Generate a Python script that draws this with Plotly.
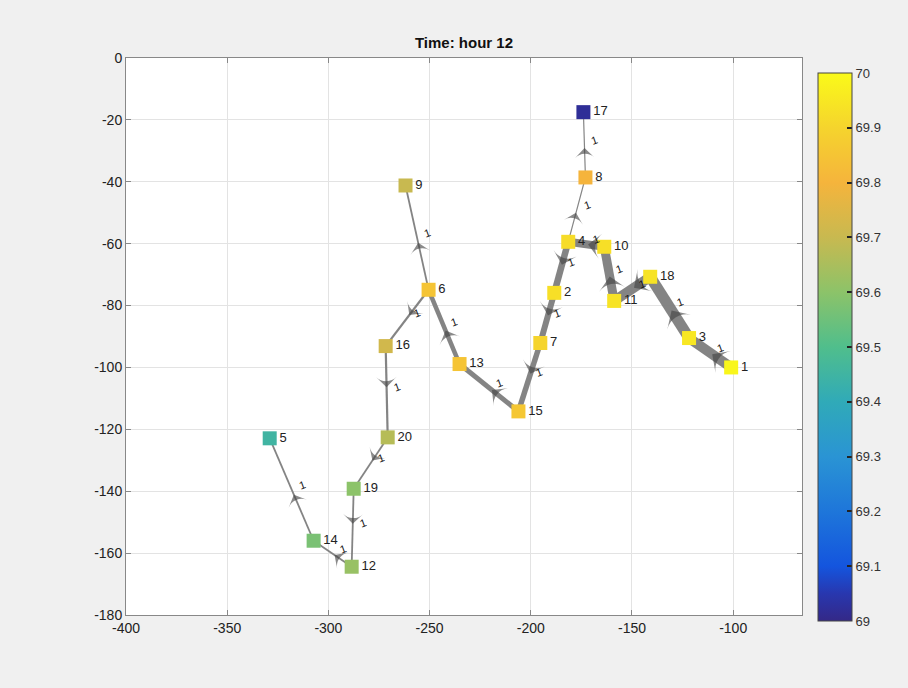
import plotly.graph_objects as go

# ---- data ----
node_ids = list(range(1, 21))
node_x = [-101, -188.4, -121.8, -181.5, -329, -250.5, -195.3, -173, -261.9, -163.7,
          -158.8, -288.5, -235.2, -307.3, -206.1, -271.7, -174, -141, -287.5, -270.7]
node_y = [-100, -75.9, -90.5, -59.4, -122.9, -74.9, -92.1, -38.6, -41.2, -61,
          -78.5, -164.4, -98.9, -156, -114.2, -93.1, -17.5, -70.7, -139.2, -122.6]
node_val = [69.99, 69.93, 69.95, 69.92, 69.45, 69.85, 69.9, 69.8, 69.7, 69.93,
            69.94, 69.62, 69.85, 69.57, 69.86, 69.72, 69.02, 69.94, 69.6, 69.67]

edge_src = [1, 3, 18, 11, 10, 4, 2, 7, 15, 13, 6, 6, 16, 20, 19, 12, 14, 4, 8]
edge_dst = [3, 18, 11, 10, 4, 2, 7, 15, 13, 6, 9, 16, 20, 19, 12, 14, 5, 8, 17]
edge_w = [10, 11, 10, 9, 8, 6.5, 6, 5.5, 5, 4.5, 1.8, 2.2, 2.2, 1.8, 1.8, 1.8, 1.8, 1.2, 1.2]
edge_lbl = ["1"] * len(edge_src)

title = "Time: hour 12"
x_ticks = [-400, -350, -300, -250, -200, -150, -100]
y_ticks = [0, -20, -40, -60, -80, -100, -120, -140, -160, -180]
cb_ticks = [69, 69.1, 69.2, 69.3, 69.4, 69.5, 69.6, 69.7, 69.8, 69.9, 70]

parula = [
    [0.0, "rgb(52,40,135)"], [0.05, "rgb(40,55,175)"], [0.1, "rgb(20,85,222)"],
    [0.2, "rgb(30,118,218)"], [0.3, "rgb(42,148,212)"], [0.4, "rgb(48,170,184)"],
    [0.5, "rgb(80,190,140)"], [0.6, "rgb(140,195,105)"], [0.7, "rgb(200,185,80)"],
    [0.8, "rgb(245,180,60)"], [0.9, "rgb(245,212,45)"], [1.0, "rgb(250,250,25)"],
]

FONT = "Liberation Sans, Arial"
fig = go.Figure()

pos = {n: (x, y) for n, x, y in zip(node_ids, node_x, node_y)}

# edges
for s, d, w in zip(edge_src, edge_dst, edge_w):
    x0, y0 = pos[s]
    x1, y1 = pos[d]
    fig.add_trace(go.Scatter(
        x=[x0, x1], y=[y0, y1], mode="lines",
        line=dict(color="rgba(125,125,125,0.95)", width=w),
        hoverinfo="skip", showlegend=False))

# arrowheads
for s, d, w in zip(edge_src, edge_dst, edge_w):
    x0, y0 = pos[s]
    x1, y1 = pos[d]
    t = 0.45
    mx, my = x0 + (x1 - x0) * t, y0 + (y1 - y0) * t
    fig.add_trace(go.Scatter(
        x=[x0, mx], y=[y0, my], mode="markers",
        marker=dict(symbol="arrow-wide", size=[0, 13 + w * 0.6], angleref="previous",
                    color="rgba(70,70,70,0.9)", line=dict(width=0)),
        hoverinfo="skip", showlegend=False))

# edge labels
for s, d, lbl in zip(edge_src, edge_dst, edge_lbl):
    x0, y0 = pos[s]
    x1, y1 = pos[d]
    fig.add_annotation(x=(x0 + x1) / 2, y=(y0 + y1) / 2, text=lbl, showarrow=False,
                       xshift=10, yshift=5, textangle=-20,
                       font=dict(size=11, color="#111", family=FONT))

# nodes
fig.add_trace(go.Scatter(
    x=node_x, y=node_y, mode="markers+text",
    text=[str(n) for n in node_ids], textposition="middle right",
    textfont=dict(size=13, color="#222", family=FONT),
    marker=dict(symbol="square", size=14, color=node_val, colorscale=parula,
                cmin=69, cmax=70, line=dict(width=0),
                colorbar=dict(
                    x=1.0237, xanchor="left", thickness=34, xpad=0, ypad=0,
                    len=548 / 557, lenmode="fraction", y=(615 - 347) / 557, yanchor="middle",
                    tickvals=cb_ticks, ticktext=[f"{v:g}" for v in cb_ticks],
                    ticks="inside", ticklen=5, tickwidth=1.5, tickcolor="#222",
                    outlinecolor="#444", outlinewidth=1,
                    tickfont=dict(size=13, color="#333", family=FONT))),
    hoverinfo="skip", showlegend=False))

fig.update_layout(
    width=908, height=688,
    margin=dict(l=126, r=106, t=58, b=73),
    paper_bgcolor="#f0f0f0", plot_bgcolor="white",
    title=dict(text="<b>" + title + "</b>", x=(126 + 802) / 2 / 908, xanchor="center",
               y=1 - 43 / 688, yanchor="middle",
               font=dict(size=15, color="#111", family=FONT)),
    font=dict(family=FONT),
)
fig.update_xaxes(range=[-400, -66], tickvals=x_ticks, ticktext=[str(v) for v in x_ticks],
                 showgrid=True, gridcolor="#e3e3e3",
                 showline=True, linecolor="#888", linewidth=1, mirror="ticks",
                 ticks="inside", ticklen=5, tickcolor="#888", zeroline=False,
                 tickfont=dict(size=14, color="#222"))
fig.update_yaxes(range=[-180, 0], tickvals=y_ticks, ticktext=[str(v) for v in y_ticks],
                 showgrid=True, gridcolor="#e3e3e3",
                 showline=True, linecolor="#888", linewidth=1, mirror="ticks",
                 ticks="inside", ticklen=5, tickcolor="#888", zeroline=False,
                 tickfont=dict(size=14, color="#222"))

fig.write_html("out.html")
